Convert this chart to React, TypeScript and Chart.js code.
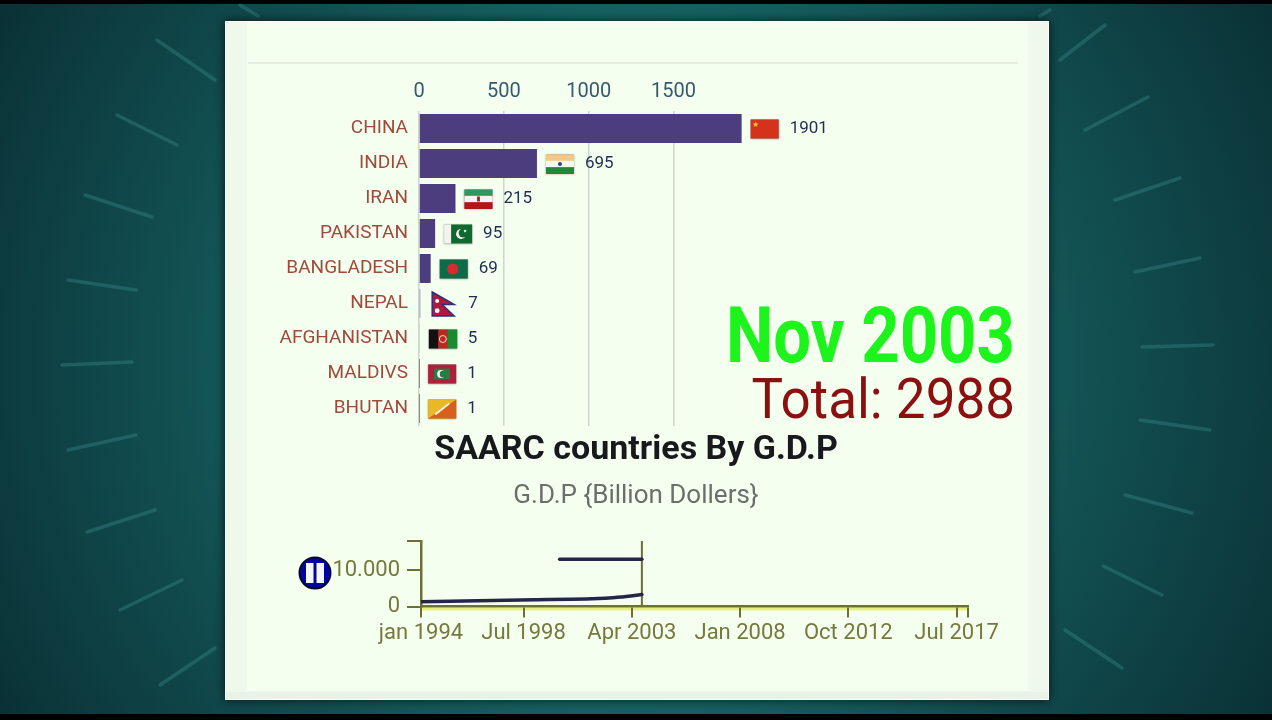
import React, { useEffect, useRef } from "react";
import { Chart, registerables } from "chart.js";

Chart.register(...registerables);

const countries = ["CHINA", "INDIA", "IRAN", "PAKISTAN", "BANGLADESH", "NEPAL", "AFGHANISTAN", "MALDIVS", "BHUTAN"];
const gdpValues = [1901, 695, 215, 95, 69, 7, 5, 1, 1];
const gdpTicks = [0, 500, 1000, 1500];
const gdpAxisMax = 5026;

const timelineMonths = [0, 30, 60, 90, 105, 116.3];
const timelineTotals = [1300, 1600, 1850, 2100, 2600, 3300];
const upperMonths = [73, 116.3];
const upperValues = [12970, 12970];
const cursorMonth = 116.3;
const timelineTickMonths = [0, 54, 111, 168, 225, 282, 288];
const timelineTickLabels = ["jan 1994", "Jul 1998", "Apr 2003", "Jan 2008", "Oct 2012", "Jul 2017", ""];
const timelineYTicks = [0, 10000, 18000];
const timelineYLabels = ["0", "10.000", ""];

const currentDate = "Nov 2003";
const currentTotal = "Total: 2988";
const chartTitle = "SAARC countries By G.D.P";
const chartSubtitle = "G.D.P {Billion Dollers}";

const FONT = 'Roboto, sans-serif';

function drawBackdrop(chart: any) {
  const c: CanvasRenderingContext2D = chart.ctx;
  c.save();
  const g = c.createRadialGradient(636, 360, 200, 636, 360, 720);
  g.addColorStop(0, "#1b7674");
  g.addColorStop(0.5, "#125052");
  g.addColorStop(1, "#0a3236");
  c.fillStyle = g;
  c.fillRect(0, 0, 1272, 720);
  c.fillStyle = "#000";
  c.fillRect(0, 0, 1272, 4);
  c.fillRect(0, 714, 1272, 6);
  const dashes = [
    [157, 40, 215, 80], [117, 115, 177, 145], [85, 195, 152, 217], [68, 280, 136, 290], [62, 365, 132, 362],
    [68, 450, 136, 435], [87, 532, 155, 510], [120, 610, 182, 580], [160, 685, 215, 648],
    [1105, 25, 1060, 60], [1148, 97, 1085, 130], [1180, 178, 1115, 200], [1200, 258, 1135, 272], [1213, 345, 1142, 347],
    [1210, 430, 1140, 420], [1192, 513, 1125, 495], [1162, 595, 1103, 566], [1122, 668, 1065, 630],
    [240, 5, 258, 16], [1040, 16, 1050, 10],
  ];
  c.strokeStyle = "rgba(70,160,158,0.3)";
  c.lineWidth = 3.5;
  c.lineCap = "round";
  dashes.forEach(([a, b, d, e]) => {
    c.beginPath();
    c.moveTo(a, b);
    c.lineTo(d, e);
    c.stroke();
  });
  c.shadowColor = "rgba(0,0,0,0.7)";
  c.shadowBlur = 10;
  c.fillStyle = "#ffffff";
  c.fillRect(225, 21, 824, 679);
  c.shadowBlur = 0;
  c.fillStyle = "#eef9ec";
  c.fillRect(226, 22, 822, 670);
  c.fillStyle = "#e8f2e5";
  c.fillRect(226, 692, 822, 7);
  c.fillStyle = "#f4fff0";
  c.fillRect(247, 22, 781, 669);
  c.fillStyle = "#e4eee0";
  c.fillRect(248, 62, 770, 2);
  c.restore();
}

function star(c: CanvasRenderingContext2D, x: number, y: number, r: number) {
  c.beginPath();
  for (let i = 0; i < 10; i++) {
    const a = -Math.PI / 2 + (i * Math.PI) / 5;
    const q = i % 2 ? r * 0.45 : r;
    c.lineTo(x + Math.cos(a) * q, y + Math.sin(a) * q);
  }
  c.closePath();
  c.fill();
}

function bands(c: CanvasRenderingContext2D, x: number, y: number, w: number, h: number, cols: string[]) {
  cols.forEach((col, i) => {
    c.fillStyle = col;
    c.fillRect(x, y + (i * h) / cols.length, w, h / cols.length + 0.5);
  });
}

function drawFlag(c: CanvasRenderingContext2D, name: string, x: number, y: number, w: number, h: number) {
  const cx = x + w / 2;
  const cy = y + h / 2;
  c.save();
  c.shadowColor = "rgba(0,0,0,0.35)";
  c.shadowBlur = 2;
  c.fillStyle = "#888";
  if (name !== "NEPAL") c.fillRect(x, y, w, h);
  c.shadowBlur = 0;
  if (name === "CHINA") {
    c.fillStyle = "#d5321c";
    c.fillRect(x, y, w, h);
    c.fillStyle = "#f0c040";
    star(c, x + 5, y + 5, 3);
  } else if (name === "INDIA") {
    bands(c, x, y, w, h, ["#f2c98a", "#f7f7ee", "#1d8a3a"]);
    c.fillStyle = "#3a3a7a";
    c.beginPath();
    c.arc(cx, cy, 2, 0, 7);
    c.fill();
  } else if (name === "IRAN") {
    bands(c, x, y, w, h, ["#2d9a5c", "#f4f4f0", "#b01818"]);
    c.fillStyle = "#a03030";
    c.fillRect(cx - 1.5, cy - 2.5, 3, 5);
  } else if (name === "PAKISTAN") {
    c.fillStyle = "#f2f4ee";
    c.fillRect(x, y, w, h);
    c.fillStyle = "#0d6a2c";
    c.fillRect(x + 7, y, w - 7, h);
    c.fillStyle = "#fff";
    c.beginPath();
    c.arc(x + 17, cy, 5, 0, 7);
    c.fill();
    c.fillStyle = "#0d6a2c";
    c.beginPath();
    c.arc(x + 19, cy - 1, 4.5, 0, 7);
    c.fill();
    c.fillStyle = "#fff";
    star(c, x + 21, cy - 3, 1.8);
  } else if (name === "BANGLADESH") {
    c.fillStyle = "#0e6a48";
    c.fillRect(x, y, w, h);
    c.fillStyle = "#d82a30";
    c.beginPath();
    c.arc(cx - 1, cy, 5.5, 0, 7);
    c.fill();
  } else if (name === "NEPAL") {
    c.fillStyle = "#b01840";
    c.strokeStyle = "#303078";
    c.lineWidth = 1.5;
    c.beginPath();
    c.moveTo(x, y);
    c.lineTo(x + w, y + h * 0.52);
    c.lineTo(x + w * 0.45, y + h * 0.52);
    c.lineTo(x + w, y + h);
    c.lineTo(x, y + h);
    c.closePath();
    c.fill();
    c.stroke();
    c.fillStyle = "#fff";
    c.beginPath();
    c.arc(x + 5, y + h * 0.38, 2, 0, 7);
    c.arc(x + 5, y + h * 0.78, 2.4, 0, 7);
    c.fill();
  } else if (name === "AFGHANISTAN") {
    ["#111", "#b82a20", "#1a8a30"].forEach((col, i) => {
      c.fillStyle = col;
      c.fillRect(x + (i * w) / 3, y, w / 3 + 0.5, h);
    });
    c.strokeStyle = "#e8e0d0";
    c.lineWidth = 1;
    c.beginPath();
    c.arc(cx, cy, 3.5, 0, 7);
    c.stroke();
  } else if (name === "MALDIVS") {
    c.fillStyle = "#b0203a";
    c.fillRect(x, y, w, h);
    c.fillStyle = "#2a7a44";
    c.fillRect(x + 6, y + 4, w - 12, h - 8);
    c.fillStyle = "#fff";
    c.beginPath();
    c.arc(cx - 1, cy, 4, 0, 7);
    c.fill();
    c.fillStyle = "#2a7a44";
    c.beginPath();
    c.arc(cx + 1, cy, 3.5, 0, 7);
    c.fill();
  } else {
    c.fillStyle = "#e8b828";
    c.fillRect(x, y, w, h);
    c.fillStyle = "#d8601c";
    c.beginPath();
    c.moveTo(x + w, y);
    c.lineTo(x + w, y + h);
    c.lineTo(x, y + h);
    c.closePath();
    c.fill();
    c.strokeStyle = "#fff4e0";
    c.lineWidth = 2;
    c.beginPath();
    c.moveTo(x + 7, y + h - 4);
    c.lineTo(x + w - 7, y + 4);
    c.stroke();
  }
  c.restore();
}

const flagsPlugin = {
  id: "flagsAndValues",
  afterDatasetsDraw(chart: any) {
    const c: CanvasRenderingContext2D = chart.ctx;
    const xs = chart.scales.x;
    const ys = chart.scales.y;
    c.save();
    countries.forEach((name, i) => {
      const end = xs.getPixelForValue(gdpValues[i]);
      const mid = ys.getPixelForValue(i);
      const nepal = name === "NEPAL";
      const w = nepal ? 22 : 28;
      const h = nepal ? 24 : 19;
      const fx = end + (nepal ? 12 : 9);
      drawFlag(c, name, fx, mid - h / 2 + 0.5, w, h);
      c.fillStyle = "#1f2d50";
      c.font = `17px ${FONT}`;
      c.textAlign = "left";
      c.textBaseline = "middle";
      c.fillText(String(gdpValues[i]), fx + w + (nepal ? 14 : 11), mid);
    });
    c.restore();
  },
};

const timelineDecor = {
  id: "timelineDecor",
  beforeDraw(chart: any) {
    const c: CanvasRenderingContext2D = chart.ctx;
    const a = chart.chartArea;
    c.save();
    c.fillStyle = "rgba(225,235,90,0.75)";
    c.fillRect(a.left, a.bottom + 1, a.right - a.left, 3);
    c.restore();
  },
  afterDraw(chart: any) {
    const c: CanvasRenderingContext2D = chart.ctx;
    c.save();
    c.fillStyle = "#0202a8";
    c.strokeStyle = "#07072e";
    c.lineWidth = 2;
    c.beginPath();
    c.arc(315, 573, 15.5, 0, Math.PI * 2);
    c.fill();
    c.stroke();
    c.fillStyle = "#f4f8f4";
    c.fillRect(306, 563, 7.5, 20);
    c.fillRect(316.5, 563, 7.5, 20);
    c.restore();
  },
};

export default function App() {
  const mainRef = useRef<HTMLCanvasElement>(null);
  const lineRef = useRef<HTMLCanvasElement>(null);

  useEffect(() => {
    document.body.style.margin = "0";
    const main = new Chart(mainRef.current!, {
      type: "bar",
      plugins: [{ id: "backdrop", beforeDraw: drawBackdrop }, flagsPlugin],
      data: {
        labels: countries,
        datasets: [{
          data: gdpValues,
          backgroundColor: "#4c3e7e",
          borderWidth: 0,
          barPercentage: 0.83,
          categoryPercentage: 1,
        }],
      },
      options: {
        indexAxis: "y",
        responsive: false,
        animation: false,
        layout: { padding: { left: 0, right: 0, top: 0, bottom: 208.4 } },
        plugins: {
          legend: { display: false },
          tooltip: { enabled: false },
          title: {
            display: true, position: "bottom", weight: 1, text: chartTitle, color: "#17191c",
            font: { family: FONT, size: 34, weight: "bold" }, padding: { top: 3.6, bottom: 0 },
          },
          subtitle: {
            display: true, position: "bottom", weight: 2, text: chartSubtitle, color: "#6b6f6b",
            font: { family: FONT, size: 26, weight: "normal" }, padding: { top: 10, bottom: 0 },
          },
        },
        scales: {
          x: {
            position: "top",
            min: 0,
            max: gdpAxisMax,
            afterBuildTicks: (s: any) => { s.ticks = gdpTicks.map((value) => ({ value })); },
            afterFit: (s: any) => { s.height = 111; },
            grid: { color: "#ccd6cc", lineWidth: 1.5, drawTicks: false },
            border: { display: false },
            ticks: {
              autoSkip: false, maxRotation: 0, color: "#37596b", padding: 7,
              font: { family: FONT, size: 20 },
              callback: (v: any) => String(v),
            },
          },
          y: {
            afterFit: (s: any) => { s.width = 419; },
            grid: { display: false, drawTicks: false, tickLength: 0 },
            border: { display: false },
            ticks: { autoSkip: false, color: "#a04a3a", padding: 11, font: { family: FONT, size: 19 } },
          },
        },
      } as any,
    });

    const line = new Chart(lineRef.current!, {
      type: "line",
      plugins: [timelineDecor],
      data: {
        datasets: [
          {
            data: timelineMonths.map((x, i) => ({ x, y: timelineTotals[i] })),
            borderColor: "#25254a", borderWidth: 3.5, pointRadius: 0, tension: 0.2, borderCapStyle: "round",
          },
          {
            data: upperMonths.map((x, i) => ({ x, y: upperValues[i] })),
            borderColor: "#25254a", borderWidth: 3.5, pointRadius: 0, borderCapStyle: "round",
          },
          {
            data: [{ x: cursorMonth, y: 0 }, { x: cursorMonth, y: timelineYTicks[2] }],
            borderColor: "#6c7036", borderWidth: 2, pointRadius: 0,
          },
        ],
      },
      options: {
        responsive: false,
        animation: false,
        layout: { padding: { left: 0, right: 304, top: 541, bottom: 53.5 } },
        plugins: { legend: { display: false }, tooltip: { enabled: false } },
        scales: {
          x: {
            type: "linear",
            min: 0,
            max: 288,
            afterBuildTicks: (s: any) => { s.ticks = timelineTickMonths.map((value) => ({ value })); },
            afterFit: (s: any) => { s.height = 60; },
            grid: { drawOnChartArea: false, color: "#6c7036", lineWidth: 2, tickLength: 11 },
            border: { color: "#6c7036", width: 2.5 },
            ticks: {
              autoSkip: false, maxRotation: 0, color: "#76793c", padding: 3,
              font: { family: FONT, size: 22 },
              callback: (v: any) => timelineTickLabels[timelineTickMonths.indexOf(v)],
            },
          },
          y: {
            min: 0,
            max: timelineYTicks[2],
            afterBuildTicks: (s: any) => { s.ticks = timelineYTicks.map((value) => ({ value })); },
            afterFit: (s: any) => { s.width = 421; },
            grid: { drawOnChartArea: false, color: "#6c7036", lineWidth: 2, tickLength: 14 },
            border: { color: "#6c7036", width: 2.5 },
            ticks: {
              autoSkip: false, color: "#76793c", padding: 7,
              font: { family: FONT, size: 22 },
              callback: (v: any) => timelineYLabels[timelineYTicks.indexOf(v)],
            },
          },
        },
      } as any,
    });

    return () => {
      main.destroy();
      line.destroy();
    };
  }, []);

  const layer: React.CSSProperties = { position: "absolute", left: 0, top: 0, display: "block" };
  const text: React.CSSProperties = { position: "absolute", right: 257, whiteSpace: "nowrap", fontFamily: FONT, transformOrigin: "right center" };
  return (
    <div style={{ position: "fixed", left: 0, top: 0, width: 1272, height: 720, overflow: "hidden" }}>
      <canvas ref={mainRef} width={1272} height={720} style={layer} />
      <canvas ref={lineRef} width={1272} height={720} style={layer} />
      <div style={{ ...text, top: 291, fontSize: 67, lineHeight: "90px", fontWeight: 700, color: "#1cf41c", transform: "scaleY(1.15)" }}>{currentDate}</div>
      <div style={{ ...text, top: 367, fontSize: 53, lineHeight: "64px", color: "#8c1010", transform: "scaleY(1.05)" }}>{currentTotal}</div>
    </div>
  );
}
